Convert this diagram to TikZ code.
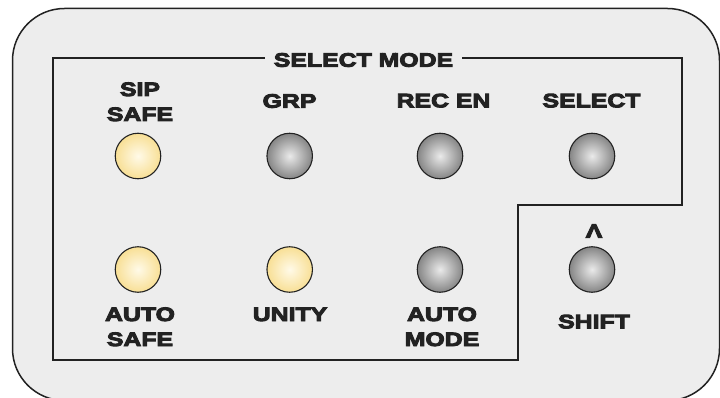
\documentclass[tikz,border=0pt]{standalone}
\usepackage{fontspec}
\newfontfamily\heavyfont{Liberation Sans Bold}[FakeStretch=1.28,FakeBold=5]
\definecolor{panelbg}{HTML}{EDEDED}
\definecolor{edge}{HTML}{222222}
\definecolor{yelin}{HTML}{FFFAE8}
\definecolor{yelout}{HTML}{F8DF95}
\definecolor{grayin}{HTML}{EAEAEA}
\definecolor{grayout}{HTML}{858585}
\tikzset{
  lbl/.style={inner sep=0pt, anchor=base, font=\heavyfont\fontsize{19.4}{25}\selectfont, text=edge},
  btn/.style={circle, minimum size=45.5pt, inner sep=0pt, draw=edge, line width=1.1pt},
  lamp/.style={btn, inner color=yelin, outer color=yelout},
  key/.style={btn, inner color=grayin, outer color=grayout},
  frame/.style={draw=edge, line width=2pt},
}
\begin{document}
\begin{tikzpicture}[x=1pt,y=-1pt]
\useasboundingbox (0,0) rectangle (720,398);
\clip (0,0) rectangle (720,398);
\fill[white] (0,0) rectangle (720,398);
\draw[fill=panelbg, draw=edge, line width=1.5pt, rounded corners=52pt] (12.5,8.5) rectangle (719.5,400.5);
% inner frame
\draw[frame] (53,58) -- (682,58) -- (682,205) -- (518,205) -- (518,360) -- (53,360) -- cycle;
\node[lbl, fill=panelbg, inner xsep=9pt, inner ysep=3pt] (title) at (363.5,66.7) {SELECT MODE};
% buttons
\node[lamp] (sip) at (138,156) {};
\node[key] (grp) at (289.7,156) {};
\node[key] (rec) at (440,156) {};
\node[key] (sel) at (592,156) {};
\node[lamp] (asafe) at (138,269.5) {};
\node[lamp] (unity) at (289.7,269.5) {};
\node[key] (amode) at (440,269.5) {};
\node[key] (shift) at (592,269.5) {};
% labels
\node[lbl] (lsip) at (140,96) {\begin{tabular}[t]{@{}c@{}}SIP\\SAFE\end{tabular}};
\node[lbl] (lgrp) at (289.5,107.7) {GRP};
\node[lbl] (lrec) at (443.5,107.3) {REC EN};
\node[lbl] (lsel) at (591.5,107.3) {SELECT};
\node[lbl] (lasafe) at (140,321) {\begin{tabular}[t]{@{}c@{}}AUTO\\SAFE\end{tabular}};
\node[lbl] (lunity) at (290,321) {UNITY};
\node[lbl] (lamode) at (442,321) {\begin{tabular}[t]{@{}c@{}}AUTO\\MODE\end{tabular}};
\node[lbl] (lcaret) at (594,237.7) {Λ};
\node[lbl] (lshift) at (594,328.3) {SHIFT};
\end{tikzpicture}
\end{document}
